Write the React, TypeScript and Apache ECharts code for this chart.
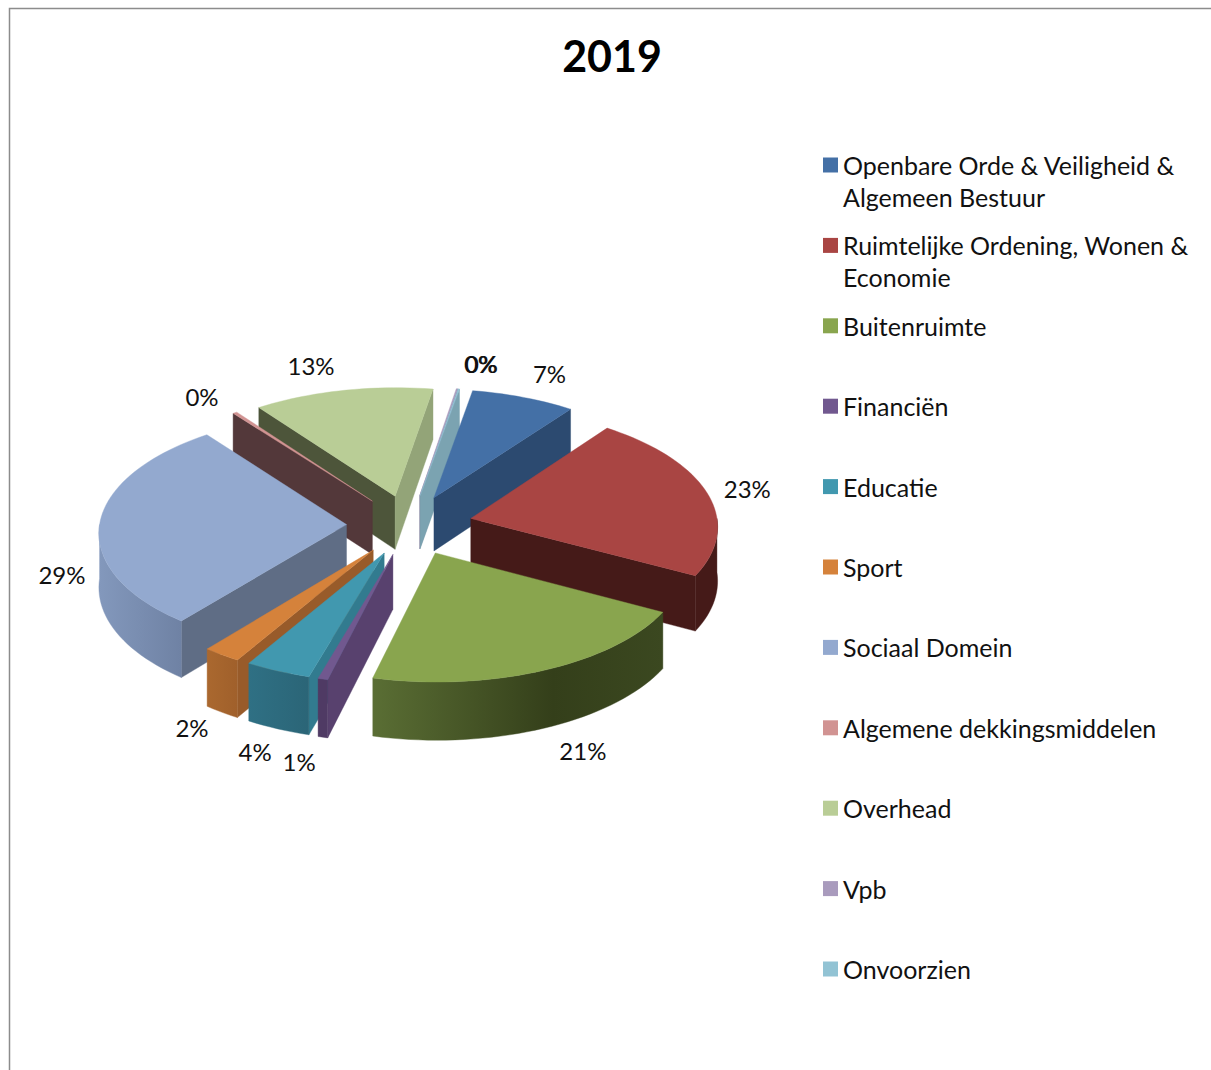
import React, { useEffect, useRef } from "react";
import * as echarts from "echarts";

const title = "2019";
const categories = [
  "Openbare Orde & Veiligheid &\nAlgemeen Bestuur",
  "Ruimtelijke Ordening, Wonen &\nEconomie",
  "Buitenruimte",
  "Financiën",
  "Educatie",
  "Sport",
  "Sociaal Domein",
  "Algemene dekkingsmiddelen",
  "Overhead",
  "Vpb",
  "Onvoorzien",
];
const values = [7.3, 22.8, 21.0, 0.6, 4.0, 2.3, 28.9, 0.3, 12.6, 0.1, 0.1];

const topColors = ["#4470A6", "#A94543", "#89A54E", "#71588F", "#4198AF", "#D5823B", "#93A9CF", "#D19392", "#B9CD96", "#A99BBD", "#92C3D4"];
const startFaceColors = ["#2C4A70", "#451A18", "#3A4720", "#58416E", "#327B8F", "#985B2A", "#5F6D85", "#53383A", "#4D553A", "#6A5A80", "#6A9AAA"];
const endFaceColors = ["#2C4A70", "#451A18", "#3A4720", "#58416E", "#327B8F", "#985B2A", "#5F6D85", "#53383A", "#93A478", "#7A6C90", "#7BA3B1"];
const wallStops: string[][] = [
  ["#2C4A70", "#2C4A70"],
  ["#451A18", "#451A18"],
  ["#5A6E34", "#343F1A", "#3B4820"],
  ["#4F3A64", "#4F3A64"],
  ["#2F7084", "#2B6577"],
  ["#AA682F", "#A0602B"],
  ["#8398BC", "#6F82A4"],
  ["#53383A", "#53383A"],
  ["#4D553A", "#4D553A"],
  ["#6A5A80", "#6A5A80"],
  ["#7BA3B1", "#7BA3B1"],
];
const labelOffsets: number[][] = [
  [15, -37], [10, -28], [24, 35], [-14, 36], [-8, 35], [-9, 29], [-6, 25], [-16, -31], [-25, -37], [19, -37], [18, -37],
];

const CX = 409.5, CY = 525, RADIUS = 247, EXPLODE = 63, DEPTH = 54, SQUASH = 0.478, PERSP = 0.000238, START_DEG = 10;
const LEGEND_X = 823, LEGEND_Y0 = 165, LEGEND_STEP = 80.4;
const FONT = "Lato";
const LEGEND_SIZE = 25;
const LABEL_SIZE = 24;
const LINE_H = 32;

const total = values.reduce((a, b) => a + b, 0);
const rad = (d: number) => (d * Math.PI) / 180;
const project = (fx: number, fy: number, z: number) => {
  const p = 1 / (1 - PERSP * fy);
  return [CX + fx * p, CY + SQUASH * fy * p + z * p];
};
const spans = (() => {
  let a = START_DEG;
  return values.map((v) => {
    const s = a;
    a += (v / total) * 360;
    return [s, a];
  });
})();

function sliceElements(i: number, value: number) {
  const [a0, a1] = spans[i];
  const mid = (a0 + a1) / 2;
  const tx = EXPLODE * Math.sin(rad(mid));
  const ty = -EXPLODE * Math.cos(rad(mid));
  const rim = (deg: number, z: number, r = RADIUS) =>
    project(tx + r * Math.sin(rad(deg)), ty - r * Math.cos(rad(deg)), z);
  const tip = (z: number) => project(tx, ty, z);
  const arc = (from: number, to: number, z: number) => {
    const n = Math.max(2, Math.ceil(Math.abs(to - from) / 2));
    const pts: number[][] = [];
    for (let k = 0; k <= n; k++) pts.push(rim(from + ((to - from) * k) / n, z));
    return pts;
  };
  const children: any[] = [];
  const face = (points: number[][], fill: any) =>
    children.push({ type: "polygon", shape: { points }, style: { fill, stroke: fill, lineWidth: 0.4 } });

  const norm = (d: number) => ((d % 360) + 360) % 360;
  if (Math.sin(rad(a0)) < 0) face([tip(0), rim(a0, 0), rim(a0, DEPTH), tip(DEPTH)], startFaceColors[i]);
  if (Math.sin(rad(a1)) > 0) face([tip(0), rim(a1, 0), rim(a1, DEPTH), tip(DEPTH)], endFaceColors[i]);
  const w0 = Math.max(norm(a0) > norm(a1) ? 0 : norm(a0), 90);
  const w1 = Math.min(norm(a0) > norm(a1) ? 0 : norm(a1), 270);
  if (w1 > w0) {
    const stops = wallStops[i];
    const fill = new echarts.graphic.LinearGradient(
      0, 0, 1, 0,
      stops.map((color, k) => ({ offset: stops.length === 3 && k === 1 ? 0.62 : k / (stops.length - 1), color }))
    );
    face([...arc(w0, w1, 0), ...arc(w1, w0, DEPTH)], fill);
  }
  face([tip(0), ...arc(a0, a1, 0)], topColors[i]);

  const [lx, ly] = rim(mid, DEPTH / 2, RADIUS + 32);
  children.push({
    type: "text",
    style: {
      text: `${Math.round((value / total) * 100)}%`,
      x: lx + labelOffsets[i][0],
      y: ly + labelOffsets[i][1],
      fill: "#111",
      font: `${LABEL_SIZE}px ${FONT}`,
      align: "center",
      verticalAlign: "middle",
    },
  });
  return { type: "group", children };
}

export default function App() {
  const ref = useRef<HTMLDivElement>(null);
  useEffect(() => {
    const chart = echarts.init(ref.current!, undefined, { renderer: "svg" });
    const depthOf = (i: number) => -Math.cos(rad((spans[i][0] + spans[i][1]) / 2));
    const order = values.map((_, i) => i).sort((a, b) => depthOf(a) - depthOf(b));
    chart.setOption({
      animation: false,
      backgroundColor: "#fff",
      title: {
        text: title,
        left: 607,
        top: 29,
        textAlign: "center",
        textStyle: { fontFamily: FONT, fontWeight: "bold", fontSize: 43, color: "#000" },
      },
      legend: categories.map((name, i) => {
        const twoLine = name.includes("\n");
        const boxH = twoLine ? LINE_H * 3 : LINE_H;
        return {
          data: [name],
          orient: "vertical",
          left: LEGEND_X,
          top: LEGEND_Y0 + i * LEGEND_STEP - boxH / 2,
          padding: 0,
          icon: "rect",
          itemWidth: 15,
          itemHeight: 15,
          selectedMode: false,
          formatter: (n: string) => (n.includes("\n") ? "\n" + n : n),
          textStyle: {
            fontFamily: FONT,
            fontSize: LEGEND_SIZE,
            color: "#111",
            lineHeight: LINE_H,
          },
        };
      }),
      graphic: [
        {
          type: "polyline",
          shape: { points: [[9.5, 1070], [9.5, 8.5], [1211, 8.5]] },
          style: { stroke: "#8C8C8C", lineWidth: 1.5, fill: "none" },
          silent: true,
        },
      ],
      series: categories.map((name, i) => ({
        type: "custom",
        name,
        coordinateSystem: "none",
        z: 2 + order.indexOf(i),
        itemStyle: { color: topColors[i] },
        data: [[values[i]]],
        silent: true,
        renderItem: (_p: any, api: any) => sliceElements(i, api.value(0)),
      })),
    });
    return () => chart.dispose();
  }, []);
  return <div ref={ref} style={{ position: "absolute", left: 0, top: 0, width: 1211, height: 1070 }} />;
}
